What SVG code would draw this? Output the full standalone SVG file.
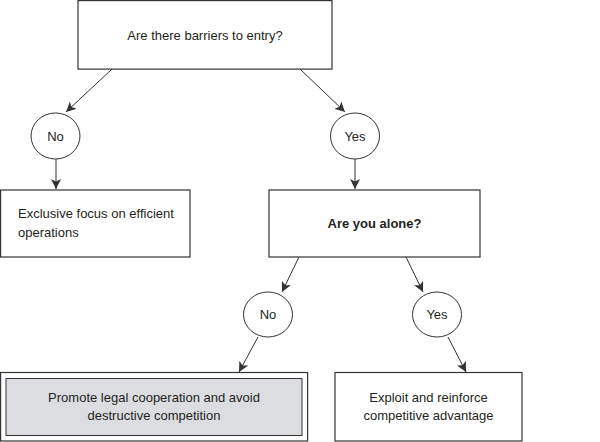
<svg xmlns="http://www.w3.org/2000/svg" width="600" height="442" viewBox="0 0 600 442">
<style>
.box{fill:#fff;stroke:#333;stroke-width:1.2}
.oval{fill:#fff;stroke:#333;stroke-width:1}
.t{font-family:"Liberation Sans",Arial,sans-serif;font-size:13px;fill:#231f20}
.c{text-anchor:middle}
.b{font-weight:bold}
.edge{stroke:#333;stroke-width:1;fill:none;marker-end:url(#ah)}
</style>
<defs>
<marker id="ah" viewBox="0 0 10 10" refX="10" refY="5" markerWidth="10" markerHeight="10" markerUnits="userSpaceOnUse" orient="auto">
<path d="M0,0 L10,5 L0,10 L2.5,5 z" fill="#333"/>
</marker>
</defs>
<rect width="600" height="442" fill="#fff"/>
<g id="connectors">
<line class="edge" x1="112" y1="69" x2="66" y2="112"/>
<line class="edge" x1="300" y1="69" x2="345" y2="112"/>
<line class="edge" x1="56" y1="159" x2="56" y2="189"/>
<line class="edge" x1="355" y1="159" x2="355" y2="189"/>
<line class="edge" x1="299" y1="257" x2="282" y2="292"/>
<line class="edge" x1="406" y1="257" x2="423" y2="292"/>
<line class="edge" x1="258" y1="337" x2="239" y2="372"/>
<line class="edge" x1="448" y1="337" x2="466" y2="372"/>
</g>
<g id="q1">
<rect class="box" x="78" y="0.6" width="254" height="68.5"/>
<text class="t c" x="205" y="40">Are there barriers to entry?</text>
</g>
<g id="no1">
<ellipse class="oval" cx="55.5" cy="136" rx="24.5" ry="23"/>
<text class="t c" x="55.5" y="141">No</text>
</g>
<g id="yes1">
<ellipse class="oval" cx="355" cy="136" rx="24.5" ry="23"/>
<text class="t c" x="355" y="141">Yes</text>
</g>
<g id="exclusive">
<rect class="box" x="0.6" y="190" width="189.4" height="67"/>
<text class="t" x="18" y="218">Exclusive focus on efficient</text>
<text class="t" x="18" y="237">operations</text>
</g>
<g id="q2">
<rect class="box" x="269" y="190" width="211" height="67"/>
<text class="t c b" x="374.5" y="228">Are you alone?</text>
</g>
<g id="no2">
<ellipse class="oval" cx="268" cy="314.5" rx="24.5" ry="22.5"/>
<text class="t c" x="268" y="319">No</text>
</g>
<g id="yes2">
<ellipse class="oval" cx="437" cy="314.5" rx="24.5" ry="22.5"/>
<text class="t c" x="437" y="319">Yes</text>
</g>
<g id="promote">
<rect class="box" x="0.6" y="372.5" width="307" height="68.5"/>
<rect x="6" y="378.5" width="296" height="57" fill="#dcdde0" stroke="#333" stroke-width="1"/>
<text class="t c" x="154" y="402">Promote legal cooperation and avoid</text>
<text class="t c" x="154" y="420">destructive competition</text>
</g>
<g id="exploit">
<rect class="box" x="335" y="372.5" width="187" height="68.5"/>
<text class="t c" x="428.5" y="402">Exploit and reinforce</text>
<text class="t c" x="428.5" y="420">competitive advantage</text>
</g>
</svg>
